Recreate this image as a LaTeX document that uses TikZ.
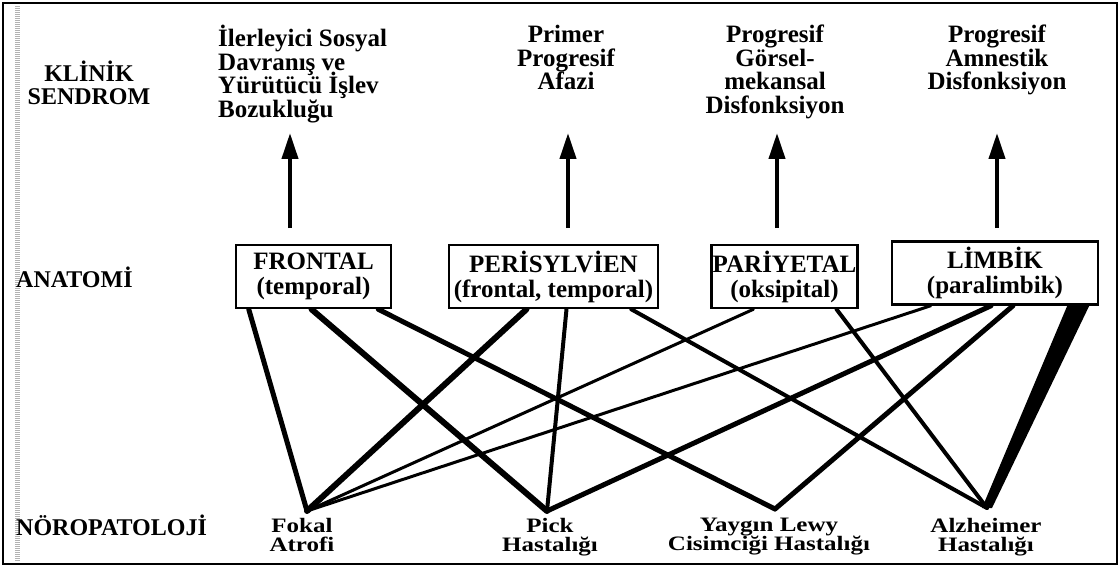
\documentclass[tikz,border=0pt]{standalone}
\usepackage{fontspec}
\usepackage{graphicx}
\setmainfont{Liberation Serif}
\usetikzlibrary{arrows.meta,backgrounds}
\newcommand{\squish}[1]{\scalebox{1}[0.82]{\begin{tabular}{@{}c@{}}#1\end{tabular}}}
\newcommand{\tightlines}{\lineskiplimit=-30pt\relax}

\begin{document}
\begin{tikzpicture}[x=1pt,y=-1pt,
  rowlbl/.style={font=\fontsize{24}{23}\selectfont\bfseries\tightlines, align=center, inner sep=0pt},
  synd/.style={font=\fontsize{25}{23.5}\selectfont\bfseries\tightlines, align=center, inner sep=0pt, anchor=north},
  region/.style={draw, fill=white, line width=2.5pt, minimum height=63pt, inner xsep=1pt, inner ysep=0pt,
    font=\fontsize{25}{25}\selectfont\bfseries\tightlines, align=center},
  disease/.style={font=\fontsize{25}{20}\selectfont\bfseries, inner sep=0pt, anchor=north},
  uparrow/.style={line width=4pt, -{Triangle[length=26pt,width=16pt]}},
  link/.style={line cap=round}]
\useasboundingbox (0,0) rectangle (1120,567);

% frame
\draw [line width=2.5pt] (3,3) rectangle (1117,564);
\draw [gray!60, line width=5pt, dash pattern=on 1pt off 1pt] (17,6) -- (17,561);

% row labels
\node [rowlbl, anchor=north] (klinik) at (89,61) {KLİNİK\\SENDROM};
\node [rowlbl, anchor=base west] (anatomi) at (16,287) {ANATOMİ};
\node [rowlbl, anchor=base west] (noro) at (16,535) {NÖROPATOLOJİ};

% clinical syndromes
\node [synd, anchor=north west, align=left] (s1) at (218,25) {İlerleyici Sosyal\\Davranış ve\\Yürütücü İşlev\\Bozukluğu};
\node [synd] (s2) at (566,25) {Primer\\Progresif\\Afazi};
\node [synd] (s3) at (775,25) {Progresif\\Görsel-\\mekansal\\Disfonksiyon};
\node [synd] (s4) at (997,25) {Progresif\\Amnestik\\Disfonksiyon};

\coordinate (a1) at (290,228); \coordinate (b1) at (290,133);
\coordinate (a2) at (568,228); \coordinate (b2) at (568,133);
\coordinate (a3) at (777,228); \coordinate (b3) at (777,133);
\coordinate (a4) at (997,228); \coordinate (b4) at (997,133);
\draw [uparrow] (a1) -- (b1);
\draw [uparrow] (a2) -- (b2);
\draw [uparrow] (a3) -- (b3);
\draw [uparrow] (a4) -- (b4);

% anatomy
\node [region, minimum width=155pt] (frontal) at (313.5,276.5) {FRONTAL\\(temporal)};
\node [region, minimum width=209pt] (perisyl) at (553.5,276.5) {PERİSYLVİEN\\(frontal, temporal)};
\node [region, minimum width=145pt] (pariyetal) at (784.5,276.5) {PARİYETAL\\(oksipital)};
\node [region, minimum width=206pt] (limbik) at (995,273) {LİMBİK\\(paralimbik)};

% neuropathology
\node [disease] (fokal) at (302,518) {\squish{Fokal\\Atrofi}};
\node [disease] (pick) at (550,518) {\squish{Pick\\Hastalığı}};
\node [disease] (lewy) at (769,518) {\squish{Yaygın Lewy\\Cisimciği Hastalığı}};
\node [disease] (alz) at (986,518) {\squish{Alzheimer\\Hastalığı}};

\coordinate (vfokal) at (307,511);
\coordinate (vpick) at (547,511);
\coordinate (vlewy) at (775,509);
\coordinate (valz) at (987,508);

\begin{scope}[on background layer]
\draw [link, line width=5pt] ([xshift=14pt]frontal.south west) -- (vfokal);
\draw [link, line width=6pt] ([xshift=-2pt]frontal.south) -- (vpick);
\draw [link, line width=5pt] ([xshift=-14pt]frontal.south east) -- (vlewy);
\draw [link, line width=6pt] ([xshift=-27pt]perisyl.south) -- (vfokal);
\draw [link, line width=4pt] ([xshift=13pt]perisyl.south) -- (vpick);
\draw [link, line width=4pt] ([xshift=-28pt]perisyl.south east) -- (valz);
\draw [link, line width=3pt] ([xshift=43pt]pariyetal.south west) -- (vfokal);
\draw [link, line width=4pt] ([xshift=-22pt]pariyetal.south east) -- (valz);
\draw [link, line width=3pt] ([xshift=40pt]limbik.south west) -- (vfokal);
\draw [link, line width=5pt] ([xshift=-4pt]limbik.south) -- (vpick);
\draw [link, line width=5pt] ([xshift=18pt]limbik.south) -- (vlewy);
\fill ([xshift=-32pt]limbik.south east) -- ([xshift=-10pt]limbik.south east)
  -- ([xshift=5pt]valz) -- ([xshift=-5pt]valz) -- cycle;
\end{scope}
\end{tikzpicture}
\end{document}
